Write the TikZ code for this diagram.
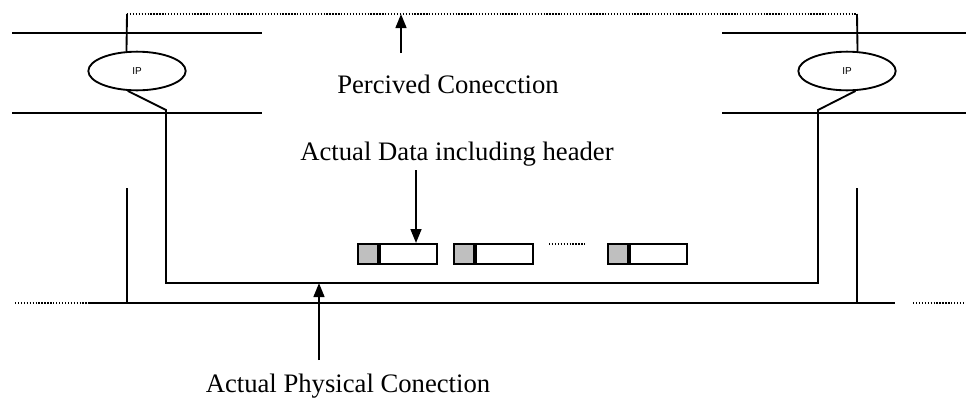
\documentclass[tikz,border=0pt]{standalone}
\usepackage{fontspec}
\setmainfont{Liberation Serif}
\newfontfamily\ipfont{Liberation Sans}
\usetikzlibrary{shapes.geometric,arrows.meta,positioning}
\tikzset{
	wire/.style = {line width=1.4pt},
	dotwire/.style = {line width=1pt, dash pattern=on 1pt off 1.2pt},
	ipnode/.style = {draw, ellipse, line width=1.4pt, minimum width=73pt, minimum height=29pt, inner sep=0pt, font=\ipfont\fontsize{7.5}{9}\selectfont},
	lbl/.style = {font=\fontsize{20}{24}\selectfont, inner sep=0pt, anchor=base},
	pointer/.style = {line width=1.8pt, -{Triangle[width=8pt,length=10.5pt]}},
	hdr/.style = {draw, fill=black!25, line width=1.4pt, minimum width=15pt, minimum height=15pt, inner sep=0pt},
	pkt/.style = {draw, line width=1.4pt, minimum width=42.75pt, minimum height=15pt, inner sep=0pt}
}
\begin{document}
\begin{tikzpicture}[x = 0.75pt, y = -0.75pt]
		\useasboundingbox (0,0) rectangle (966,401);
		\draw[wire] (12,33) -- (262,33);
		\draw[wire] (12,113) -- (262,113);
		\draw[wire] (722,33) -- (966,33);
		\draw[wire] (722,113) -- (966,113);
		\node[ipnode] (ipL) at (137,71) {IP};
		\node[ipnode] (ipR) at (847,71) {IP};
		\coordinate (percL) at (127,14);
		\coordinate (percR) at (857,14);
		\draw[dotwire] (percL) -- (percR);
		\draw[wire] (percL) -- (ipL.118);
		\draw[wire] (percR) -- (ipR.62);
		\coordinate (kneeL) at (166,110);
		\coordinate (cornerL) at (166,283);
		\coordinate (cornerR) at (818,283);
		\coordinate (kneeR) at (818,110);
		\draw[wire] (ipL.245) -- (kneeL) -- (cornerL) -- (cornerR) -- (kneeR) -- (ipR.293);
		\draw[wire] (127,188) -- (127,303);
		\draw[wire] (857,188) -- (857,303);
		\draw[dotwire] (15,303) -- (88,303);
		\draw[wire] (88,303) -- (895,303);
		\draw[dotwire] (913,303) -- (966,303);
		\node[hdr, anchor=west] (hdr1) at (357,254) {};
		\node[pkt, right=0pt of hdr1] (pkt1) {};
		\node[hdr, anchor=west] (hdr2) at (453,254) {};
		\node[pkt, right=0pt of hdr2] (pkt2) {};
		\node[hdr, anchor=west] (hdr3) at (607,254) {};
		\node[pkt, right=0pt of hdr3] (pkt3) {};
		\draw[dotwire] (549,244) -- (585,244);
		\node[lbl] (perc) at (448,93) {Percived Conecction};
		\node[lbl] (data) at (457,160) {Actual Data including header};
		\node[lbl] (phys) at (348,392) {Actual Physical Conection};
		\coordinate (percTail) at (401,53);
		\draw[pointer] (percTail) -- (percTail |- percL);
		\coordinate (dataTail) at (416,170);
		\draw[pointer] (dataTail) -- (dataTail |- pkt1.north);
		\coordinate (physTail) at (319,360);
		\draw[pointer] (physTail) -- (physTail |- cornerL);
	\end{tikzpicture}
\end{document}
